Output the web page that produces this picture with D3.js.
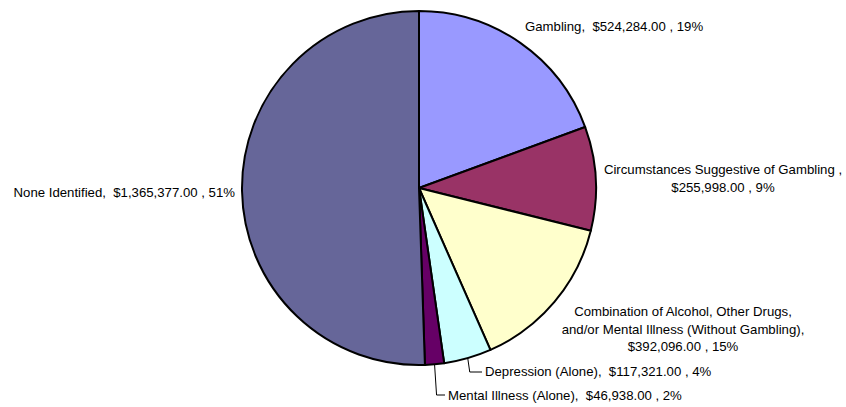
<!DOCTYPE html>
<html><head><meta charset="utf-8">
<script src="https://cdn.jsdelivr.net/npm/d3@7"></script>
<style>
body{margin:0;background:#fff;}
text{font-family:"Liberation Sans",Arial,sans-serif;font-size:13.2px;fill:#000;white-space:pre;}
</style></head>
<body>
<svg id="chart" width="846" height="407"></svg>
<script>
const categories = ["Gambling", "Circumstances Suggestive of Gambling", "Combination of Alcohol, Other Drugs, and/or Mental Illness (Without Gambling)", "Depression (Alone)", "Mental Illness (Alone)", "None Identified"];
const values = [524284, 255998, 392096, 117321, 46938, 1365377];
const valueLabels = ["$524,284.00", "$255,998.00", "$392,096.00", "$117,321.00", "$46,938.00", "$1,365,377.00"];
const percentLabels = ["19%", "9%", "15%", "4%", "2%", "51%"];
const colors = ["#9999FF", "#993366", "#FFFFCC", "#CCFFFF", "#660066", "#666699"];

// label text lines (layout of text)
const labelLines = [
  ["Gambling,  $524,284.00 , 19%"],
  ["Circumstances Suggestive of Gambling ,", "$255,998.00 , 9%"],
  ["Combination of Alcohol, Other Drugs,", "and/or Mental Illness (Without Gambling),", "$392,096.00 , 15%"],
  ["Depression (Alone),  $117,321.00 , 4%"],
  ["Mental Illness (Alone),  $46,938.00 , 2%"],
  ["None Identified,  $1,365,377.00 , 51%"]
];
// layout: label anchor relative to pie center
const cx = 419, cy = 188, R = 177, lh = 17.5;
const labelLayout = [
  {dx: 106, dy: -157, anchor: "start"},
  {dx: 304, dy: -14, anchor: "middle"},
  {dx: 264, dy: 128, anchor: "middle"},
  {dx: 66, dy: 188, anchor: "start", leader: true, ly: 184},
  {dx: 29, dy: 212, anchor: "start", leader: true, ly: 207},
  {dx: -184, dy: 9, anchor: "end"}
];

const svg = d3.select("#chart");
const g = svg.append("g").attr("transform", `translate(${cx},${cy})`);
const pie = d3.pie().sort(null).value(d => d)(values);
const arc = d3.arc().innerRadius(0).outerRadius(R);

g.selectAll("path.slice").data(pie).join("path")
  .attr("class", "slice")
  .attr("d", arc)
  .attr("fill", (d, i) => colors[i])
  .attr("stroke", "#000")
  .attr("stroke-width", 2)
  .attr("stroke-linejoin", "round");

pie.forEach((d, i) => {
  const L = labelLayout[i];
  const t = g.append("text").attr("text-anchor", L.anchor).attr("x", L.dx).attr("y", L.dy);
  labelLines[i].forEach((line, k) => {
    t.append("tspan").attr("x", L.dx).attr("y", L.dy + k * lh).text(line);
  });
  if (L.leader) {
    const a = (d.startAngle + d.endAngle) / 2;
    const x0 = Math.sin(a) * R, y0 = -Math.cos(a) * R;
    const pts = [[x0, y0], [x0 + 2, L.ly], [L.dx - 3, L.ly]];
    g.append("path").attr("d", d3.line()(pts)).attr("fill", "none").attr("stroke", "#000").attr("stroke-width", 1);
  }
});
</script>
</body></html>
